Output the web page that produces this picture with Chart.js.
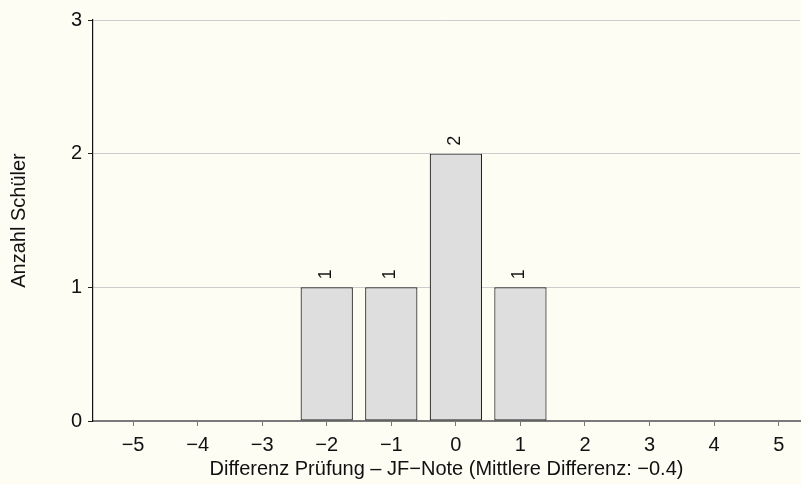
<!DOCTYPE html>
<html>
<head>
<meta charset="utf-8">
<script src="https://cdn.jsdelivr.net/npm/chart.js@4"></script>
<style>
  html, body { margin: 0; padding: 0; background: #fdfdf4; }
  #wrap { width: 801px; height: 484px; }
</style>
</head>
<body>
<div id="wrap"><canvas id="c" width="801" height="484"></canvas></div>
<script>
// ---- data ----
const categories = [-5, -4, -3, -2, -1, 0, 1, 2, 3, 4, 5];
const counts     = [ 0,  0,  0,  1,  1, 2, 1, 0, 0, 0, 0];
const yTicks     = [0, 1, 2, 3];
const xTitle = 'Differenz Prüfung – JF\u2212Note (Mittlere Differenz: \u22120.4)';
const yTitle = 'Anzahl Schüler';

const FONT = '"Liberation Sans", Arial, Helvetica, sans-serif';
const fmt = v => (v < 0 ? '\u2212' + Math.abs(v) : String(v));

const points = categories
  .map((c, i) => ({ x: c, y: counts[i] }))
  .filter(p => p.y > 0);

const bgPlugin = {
  id: 'bg',
  beforeDraw(chart) {
    const ctx = chart.ctx;
    ctx.save();
    ctx.fillStyle = '#fdfdf4';
    ctx.fillRect(0, 0, chart.width, chart.height);
    ctx.restore();
  }
};

const labelPlugin = {
  id: 'barLabels',
  afterDatasetsDraw(chart) {
    const ctx = chart.ctx;
    const meta = chart.getDatasetMeta(0);
    ctx.save();
    ctx.fillStyle = '#111';
    ctx.font = '18px ' + FONT;
    ctx.textAlign = 'center';
    ctx.textBaseline = 'middle';
    meta.data.forEach((el, i) => {
      const v = points[i].y;
      ctx.save();
      ctx.translate(el.x - 1, el.y - 13);
      ctx.rotate(-Math.PI / 2);
      ctx.fillText(String(v), 0, 0);
      ctx.restore();
    });
    ctx.restore();
  }
};

new Chart(document.getElementById('c'), {
  type: 'bar',
  data: {
    datasets: [{
      data: points,
      backgroundColor: '#dedede',
      borderColor: '#222222',
      borderWidth: 1.2,
      borderSkipped: false,
      barPercentage: 0.81,
      categoryPercentage: 1.0
    }]
  },
  options: {
    responsive: false,
    animation: false,
    layout: { padding: { left: 0, top: 20, right: 1, bottom: 0 } },
    plugins: { legend: { display: false }, tooltip: { enabled: false } },
    scales: {
      x: {
        type: 'linear',
        offset: false,
        min: -5.62,
        max: 5.33,
        afterBuildTicks: s => { s.ticks = categories.map(v => ({ value: v })); },
        afterFit: s => { s.height = 63; },
        grid: { offset: false, drawOnChartArea: false, color: '#888', tickLength: 5, tickColor: '#777' },
        border: { color: '#7a7a7a', width: 2 },
        ticks: {
          color: '#111',
          font: { family: FONT, size: 20 },
          padding: 7,
          autoSkip: false,
          maxRotation: 0,
          callback: v => fmt(v)
        },
        title: {
          display: true,
          text: xTitle,
          color: '#111',
          font: { family: FONT, size: 20 },
          padding: { top: 0, bottom: 3 }
        }
      },
      y: {
        min: 0,
        max: 3,
        afterBuildTicks: s => { s.ticks = yTicks.map(v => ({ value: v })); },
        afterFit: s => { s.width = 93; },
        grid: { color: '#cccccc', lineWidth: 1, tickLength: 5, tickColor: '#222' },
        border: { color: '#111', width: 1.2 },
        ticks: {
          color: '#111',
          font: { family: FONT, size: 20 },
          padding: 6,
          callback: v => fmt(v)
        },
        title: {
          display: true,
          text: yTitle,
          color: '#111',
          font: { family: FONT, size: 20 },
          padding: { top: 7, bottom: 0 }
        }
      }
    }
  },
  plugins: [bgPlugin, labelPlugin]
});
</script>
</body>
</html>
